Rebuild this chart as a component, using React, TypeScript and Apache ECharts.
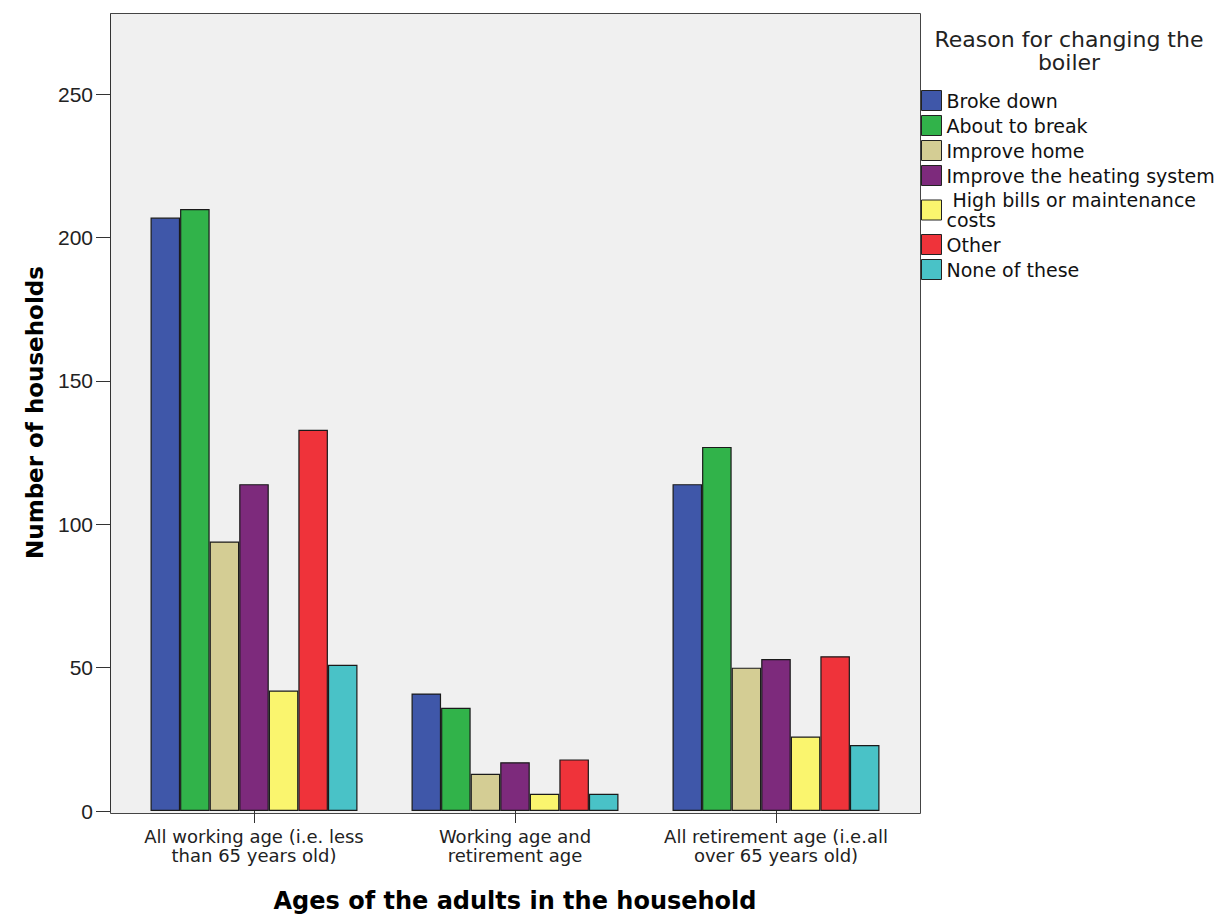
import React, { useEffect, useRef } from "react";
import * as echarts from "echarts";

const categories = [
  "All working age (i.e. less\nthan 65 years old)",
  "Working age and\nretirement age",
  "All retirement age (i.e.all\nover 65 years old)",
];

const seriesNames = [
  "Broke down",
  "About to break",
  "Improve home",
  "Improve the heating system",
  " High bills or maintenance\ncosts",
  "Other",
  "None of these",
];

const brokeDown = [207, 41, 114];
const aboutToBreak = [210, 36, 127];
const improveHome = [94, 13, 50];
const improveHeating = [114, 17, 53];
const highBills = [42, 6, 26];
const other = [133, 18, 54];
const noneOfThese = [51, 6, 23];

const yTicks = [0, 50, 100, 150, 200, 250];

const colors = ["#3f57a9", "#31b34a", "#d4cd94", "#7d2a7c", "#faf56e", "#ef333a", "#49c2c7"];

const allValues = [brokeDown, aboutToBreak, improveHome, improveHeating, highBills, other, noneOfThese];

export default function App() {
  const ref = useRef<HTMLDivElement>(null);
  useEffect(() => {
    if (!ref.current) return;
    const chart = echarts.init(ref.current, null, { renderer: "svg" });
    chart.setOption({
      animation: false,
      backgroundColor: "#ffffff",
      color: colors,
      grid: {
        left: 123.5,
        top: 14,
        width: 783,
        height: 799,
        show: false,
      },
      legend: {
        orient: "vertical",
        left: 921,
        top: 90,
        padding: 0,
        itemWidth: 20,
        itemHeight: 20,
        itemGap: 4,
        icon: "rect",
        data: seriesNames,
        itemStyle: { borderColor: "#222", borderWidth: 1 },
        textStyle: {
          fontFamily: "DejaVu Sans",
          fontSize: 19,
          lineHeight: 20,
          color: "#111",
        },
        selectedMode: false,
      },
      graphic: [
        {
          type: "rect",
          z: -10,
          silent: true,
          shape: { x: 110.5, y: 13.5, width: 810, height: 800 },
          style: { fill: "#f0f0f0", stroke: "#444", lineWidth: 1 },
        },
        {
          type: "text",
          x: 1069,
          y: 28,
          style: {
            text: "Reason for changing the\nboiler",
            font: "22px 'DejaVu Sans'",
            fill: "#222",
            align: "center",
            verticalAlign: "top",
            lineHeight: 23,
          },
        },
      ],
      xAxis: {
        type: "category",
        data: categories,
        name: "Ages of the adults in the household",
        nameLocation: "middle",
        nameGap: 78,
        nameTextStyle: {
          fontFamily: "DejaVu Sans",
          fontWeight: "bold",
          fontSize: 24,
          color: "#000",
        },
        axisLine: { show: false },
        axisTick: { show: true, alignWithLabel: true, length: 12, lineStyle: { color: "#333" } },
        axisLabel: {
          fontFamily: "DejaVu Sans",
          fontSize: 18,
          lineHeight: 19,
          color: "#222",
          margin: 16,
          interval: 0,
        },
      },
      yAxis: {
        type: "value",
        min: 0,
        max: 278,
        interval: 50,
        offset: 13.5,
        name: "Number of households",
        nameLocation: "middle",
        nameGap: 64,
        nameTextStyle: {
          fontFamily: "DejaVu Sans",
          fontWeight: "bold",
          fontSize: 23,
          color: "#000",
        },
        splitLine: { show: false },
        axisLine: { show: true, lineStyle: { color: "#333", width: 1 } },
        axisTick: { show: true, length: 14, lineStyle: { color: "#333" }, customValues: yTicks },
        axisLabel: {
          fontFamily: "Liberation Sans",
          fontSize: 21,
          color: "#222",
          margin: 17,
          customValues: yTicks,
        },
      },
      series: seriesNames.map((name, i) => ({
        name,
        type: "bar",
        data: allValues[i],
        barGap: "0%",
        barCategoryGap: "20.7%",
        itemStyle: { color: colors[i], borderColor: "#1a1a1a", borderWidth: 1.2 },
      })),
    });
    return () => chart.dispose();
  }, []);
  return (
    <div
      ref={ref}
      style={{ position: "absolute", left: 0, top: 0, width: 1223, height: 918 }}
    />
  );
}
